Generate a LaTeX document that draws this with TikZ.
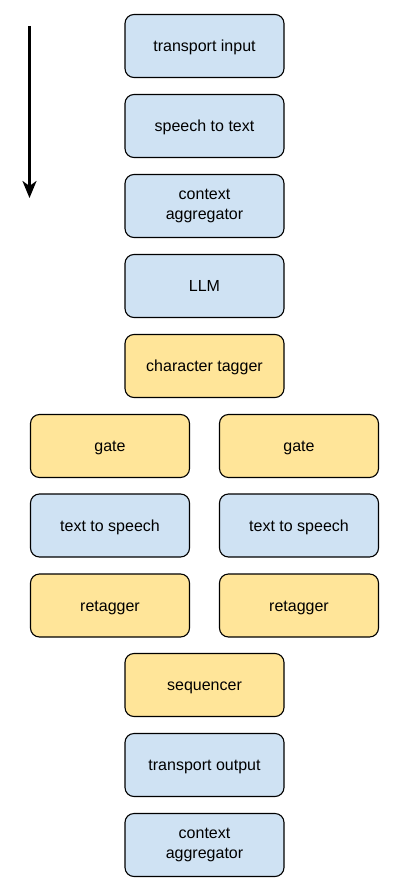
\documentclass[tikz,border=0pt]{standalone}
\usepackage{fontspec}
\setmainfont{Liberation Sans}
\usetikzlibrary{arrows.meta}
\definecolor{boxblue}{HTML}{CFE2F3}
\definecolor{boxyellow}{HTML}{FFE599}
\tikzset{
  box/.style={draw=black, line width=1.1pt, rounded corners=9pt, minimum width=159pt, minimum height=63pt, align=center, font=\fontsize{16}{19.2}\selectfont, inner sep=0pt,
    execute at begin node={\rule{0pt}{14.5pt}}, execute at end node={\rule[-3.4pt]{0pt}{0pt}}},
  bluebox/.style={box, fill=boxblue},
  yellowbox/.style={box, fill=boxyellow},
  flow/.style={line width=2.6pt, -{Stealth[length=17pt,width=14pt,inset=5pt]}}
}
\begin{document}
\begin{tikzpicture}[x=1pt,y=-1pt]
\useasboundingbox (0,0) rectangle (401,893);
\node[bluebox] (ti) at (204.5,46) {transport input};
\node[bluebox] (stt) at (204.5,126) {speech to text};
\node[bluebox] (ca1) at (204.5,206) {context\\aggregator};
\node[bluebox] (llm) at (204.5,286) {LLM};
\node[yellowbox] (ct) at (204.5,366) {character tagger};
\node[yellowbox] (g1) at (110,446) {gate};
\node[yellowbox] (g2) at (299,446) {gate};
\node[bluebox] (tts1) at (110,525.5) {text to speech};
\node[bluebox] (tts2) at (299,525.5) {text to speech};
\node[yellowbox] (rt1) at (110,605.5) {retagger};
\node[yellowbox] (rt2) at (299,605.5) {retagger};
\node[yellowbox] (seq) at (204.5,685) {sequencer};
\node[bluebox] (to) at (204.5,765) {transport output};
\node[bluebox] (ca2) at (204.5,845) {context\\aggregator};
\coordinate (as) at (29.5,26);
\coordinate (ae) at (29.5,198);
\draw[flow] (as) -- (ae);
\end{tikzpicture}
\end{document}
